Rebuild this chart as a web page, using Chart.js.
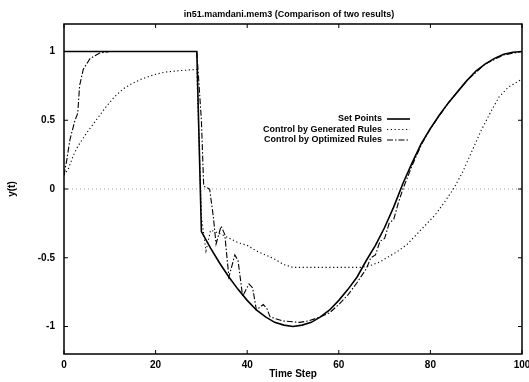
<!DOCTYPE html>
<html>
<head>
<meta charset="utf-8">
<script src="https://cdn.jsdelivr.net/npm/chart.js@4"></script>
<style>
  html, body { margin: 0; padding: 0; background: #fff; }
</style>
</head>
<body>
<canvas id="chart" width="529" height="382"></canvas>
<script>
// data
var titleText = "in51.mamdani.mem3 (Comparison of two results)"
var xTicks = [0, 20, 40, 60, 80, 100]
var yTicks = [-1, -0.5, 0, 0.5, 1]

var setT = [0, 29, 30, 32, 34, 36, 38, 40, 42, 44, 46, 48, 50, 52, 54, 56, 58, 60, 62, 64, 66, 68, 70, 72, 74, 76, 78, 80, 82, 84, 86, 88, 90, 92, 94, 96, 98, 100]
var setY = [1, 1, -0.31, -0.43, -0.54, -0.64, -0.73, -0.81, -0.88, -0.93, -0.97, -0.99, -1.0, -0.99, -0.97, -0.93, -0.88, -0.81, -0.73, -0.64, -0.52, -0.41, -0.28, -0.13, 0.04, 0.19, 0.33, 0.44, 0.54, 0.63, 0.71, 0.79, 0.86, 0.91, 0.95, 0.98, 0.995, 1.0]

var genT = [0, 1, 2, 3, 5, 7, 9, 11, 13, 15, 17, 19.5, 22, 25, 29, 30, 31, 32, 33, 35, 38, 40, 42, 44, 46, 48, 50, 55, 60, 65, 67, 69, 71, 73, 75, 77, 79, 81, 83, 85, 87, 89, 91, 93, 95, 97, 100]
var genY = [0.1, 0.15, 0.24, 0.31, 0.41, 0.5, 0.59, 0.67, 0.73, 0.77, 0.8, 0.83, 0.85, 0.86, 0.87, -0.2, -0.45, -0.3, -0.31, -0.34, -0.39, -0.41, -0.45, -0.48, -0.51, -0.55, -0.57, -0.57, -0.57, -0.57, -0.555, -0.53, -0.49, -0.45, -0.4, -0.33, -0.26, -0.19, -0.1, 0.0, 0.12, 0.27, 0.42, 0.55, 0.67, 0.74, 0.8]

var optT = [0, 0.6, 1.3, 2.4, 3, 3.4, 4.2, 5.7, 7.9, 10, 29, 30, 30.5, 31.8, 32.6, 33.2, 34.3, 35.1, 36, 37.3, 38, 39, 40.4, 41.2, 42, 43.5, 44.3, 45, 47.8, 51.5, 53.3, 56, 58, 60, 62, 64, 66, 67, 68, 69, 70, 71, 72, 73, 74, 76, 78, 80, 84, 88, 92, 96, 100]
var optY = [0.1, 0.21, 0.36, 0.5, 0.55, 0.75, 0.87, 0.95, 0.99, 1.0, 1.0, 0.5, 0.02, 0.0, -0.2, -0.4, -0.27, -0.33, -0.64, -0.48, -0.52, -0.78, -0.69, -0.72, -0.88, -0.84, -0.87, -0.93, -0.96, -0.97, -0.96, -0.93, -0.9, -0.84, -0.77, -0.68, -0.58, -0.5, -0.48, -0.38, -0.36, -0.25, -0.22, -0.1, 0.0, 0.17, 0.32, 0.44, 0.63, 0.79, 0.91, 0.975, 1.0]

var zeroT = [0, 100]
var zeroY = [0, 0]

function pts(t, y) {
    return t.map(function (v, i) { return { x: v, y: y[i] } })
}

var FONT = "'Liberation Sans', Arial, sans-serif"

// frame with inward ticks, title and legend
var decor = {
    id: "decor",
    afterDatasetsDraw: function (chart) {
        var ctx = chart.ctx
        var a = chart.chartArea
        var sx = chart.scales.x
        var sy = chart.scales.y
        ctx.save()
        ctx.strokeStyle = "#000"
        ctx.lineWidth = 1.5
        ctx.strokeRect(a.left, a.top, a.right - a.left, a.bottom - a.top)
        ctx.lineWidth = 1
        ctx.beginPath()
        sx.ticks.forEach(function (t) {
            var px = sx.getPixelForValue(t.value)
            ctx.moveTo(px, a.bottom); ctx.lineTo(px, a.bottom - 4)
            ctx.moveTo(px, a.top); ctx.lineTo(px, a.top + 4)
        })
        sy.ticks.forEach(function (t) {
            var py = sy.getPixelForValue(t.value)
            ctx.moveTo(a.left, py); ctx.lineTo(a.left + 4, py)
            ctx.moveTo(a.right, py); ctx.lineTo(a.right - 4, py)
        })
        ctx.stroke()

        ctx.fillStyle = "#000"
        ctx.font = "bold 9px " + FONT
        ctx.textAlign = "center"
        ctx.textBaseline = "middle"
        ctx.fillText(titleText, (a.left + a.right) / 2 - 4, 15)

        // legend
        var lx = a.left + 318
        var ly = a.top + 95
        var items = chart.data.datasets.filter(function (d) { return d.label })
        items.forEach(function (d, i) {
            var y = ly + i * 10.5
            ctx.textAlign = "right"
            ctx.fillText(d.label, lx, y)
            ctx.beginPath()
            ctx.setLineDash(d.borderDash || [])
            ctx.lineWidth = d.borderWidth
            ctx.strokeStyle = d.borderColor
            ctx.moveTo(lx + 5, y)
            ctx.lineTo(lx + 28, y)
            ctx.stroke()
        })
        ctx.restore()
    }
}

new Chart("chart", {
    type: "line",
    data: {
        datasets: [
            {
                label: "Set Points",
                data: pts(setT, setY),
                borderColor: "#000",
                borderWidth: 1.6,
            },
            {
                label: "Control by Generated Rules",
                data: pts(genT, genY),
                borderColor: "#000",
                borderWidth: 1.1,
                borderDash: [1.2, 2.6],
            },
            {
                label: "Control by Optimized Rules",
                data: pts(optT, optY),
                borderColor: "#000",
                borderWidth: 1.1,
                borderDash: [6, 2, 1.5, 2],
            },
            {
                data: pts(zeroT, zeroY),
                borderColor: "#999",
                borderWidth: 1,
                borderDash: [1, 3],
            },
        ],
    },
    options: {
        responsive: false,
        animation: false,
        layout: { padding: { top: 24, right: 7, left: 0, bottom: 0 } },
        elements: { point: { radius: 0 }, line: { tension: 0 } },
        plugins: {
            legend: { display: false },
            tooltip: { enabled: false },
        },
        scales: {
            x: {
                type: "linear",
                min: 0,
                max: 100,
                afterBuildTicks: function (s) { s.ticks = xTicks.map(function (v) { return { value: v } }) },
                afterFit: function (s) { s.height = 28; s.paddingLeft = 0; s.paddingRight = 0 },
                grid: { display: false, drawTicks: false },
                border: { display: false },
                ticks: { color: "#000", padding: 5, maxRotation: 0, font: { family: FONT, size: 10, weight: "bold" } },
                title: { display: true, text: "Time Step", color: "#000", padding: { top: 0, bottom: 2 }, font: { family: FONT, size: 10, weight: "bold" } },
            },
            y: {
                min: -1.2,
                max: 1.2,
                afterBuildTicks: function (s) { s.ticks = yTicks.map(function (v) { return { value: v } }) },
                afterFit: function (s) { s.width = 64 },
                grid: { display: false, drawTicks: false },
                border: { display: false },
                ticks: {
                    color: "#000",
                    padding: 9,
                    font: { family: FONT, size: 10, weight: "bold" },
                    callback: function (v) { return String(v) },
                },
                title: { display: true, text: "y(t)", color: "#000", padding: { top: 6, bottom: 0 }, font: { family: FONT, size: 10, weight: "bold" } },
            },
        },
    },
    plugins: [decor],
})
</script>
</body>
</html>
